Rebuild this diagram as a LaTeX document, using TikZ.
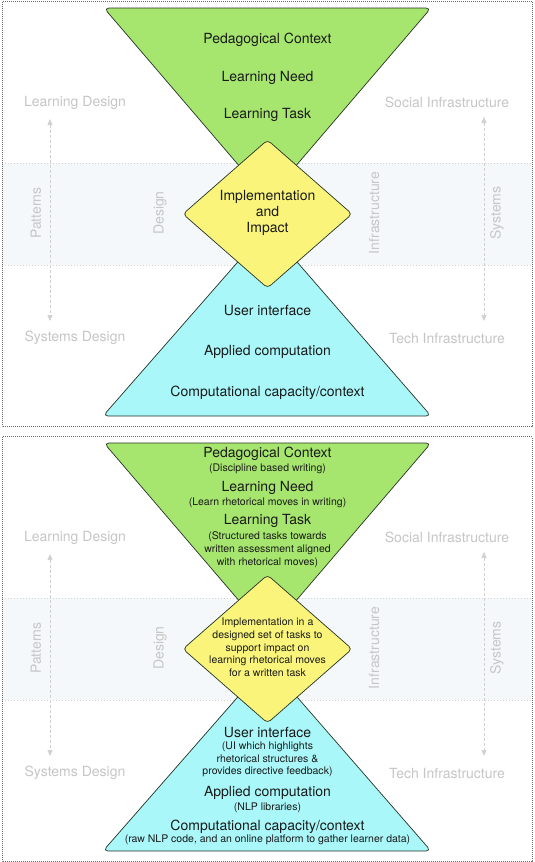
\documentclass[tikz,border=0pt]{standalone}
\usepackage{fontspec}
\setmainfont{TeX Gyre Heros}
\usetikzlibrary{arrows.meta}
\definecolor{tgreen}{HTML}{A6E66E}
\definecolor{tcyan}{HTML}{A9F7F9}
\definecolor{tyellow}{HTML}{FAF57A}
\definecolor{lblgray}{HTML}{C6C6C6}
\definecolor{bandfill}{HTML}{F4F8FA}
\definecolor{bordergray}{HTML}{6A6A6A}
\definecolor{linegray}{HTML}{D4D4D4}
\definecolor{arrowgray}{HTML}{D0D0D0}
\definecolor{textdark}{HTML}{1A1A1A}
\definecolor{outline}{HTML}{263326}
\tikzset{
  mtext/.style={font=\fontsize{14}{16}\selectfont, text=textdark, inner sep=0pt, align=center},
  stext/.style={font=\fontsize{10.5}{12.7}\selectfont, text=textdark, inner sep=0pt, align=center},
  glabel/.style={font=\fontsize{14}{16}\selectfont, text=lblgray, inner sep=0pt},
  bandline/.style={linegray, line width=0.7pt, dash pattern=on 1.2pt off 1.8pt},
  panelborder/.style={bordergray, line width=0.8pt, dash pattern=on 1pt off 1pt},
  garrow/.style={arrowgray, line width=0.7pt, dash pattern=on 3pt off 2pt,
     {Triangle[width=5pt,length=6pt]}-{Triangle[width=5pt,length=6pt]}},
  shapeline/.style={draw=outline, line width=0.7pt},
}
\newcommand\panelbase[1]{%
  \fill[white] (2,1.5) rectangle (532,426.5);
  \fill[bandfill] (2,163) rectangle (532,265);
  \draw[bandline] (2,163) -- (532,163);
  \draw[bandline] (2,265) -- (532,265);
  \draw[panelborder] (2,1.5) rectangle (532,426.5);
  \node[glabel] (#1ld) at (75,103) {Learning Design};
  \node[glabel] (#1si) at (447,102) {Social Infrastructure};
  \node[glabel] (#1sd) at (75,338) {Systems Design};
  \node[glabel] (#1ti) at (447,338) {Tech Infrastructure};
  \node[glabel, rotate=90] (#1pa) at (36,213) {Patterns};
  \node[glabel, rotate=90] (#1de) at (160,213) {Design};
  \node[glabel, rotate=90] (#1in) at (374,213) {Infrastructure};
  \node[glabel, rotate=90] (#1sy) at (497,213) {Systems};
  \coordinate (#1la) at (50,119);
  \coordinate (#1lb) at (50,321);
  \coordinate (#1ra) at (484,117);
  \coordinate (#1rb) at (484,321);
  \draw[garrow] (#1la) -- (#1lb);
  \draw[garrow] (#1ra) -- (#1rb);
  \coordinate (#1g1) at (104,8);
  \coordinate (#1g2) at (431,8);
  \coordinate (#1g3) at (267.5,199);
  \filldraw[shapeline, fill=tgreen, rounded corners=5pt] (#1g1) -- (#1g2) -- (#1g3) -- cycle;
  \coordinate (#1c1) at (103,416);
  \coordinate (#1c2) at (431,416);
  \coordinate (#1c3) at (267.5,228);
  \filldraw[shapeline, fill=tcyan, rounded corners=5pt] (#1c1) -- (#1c2) -- (#1c3) -- cycle;
  \coordinate (#1d1) at (267.5,140);
  \coordinate (#1d2) at (352,214);
  \coordinate (#1d3) at (267.5,288);
  \coordinate (#1d4) at (183,214);
  \filldraw[shapeline, fill=tyellow, rounded corners=4pt] (#1d1) -- (#1d2) -- (#1d3) -- (#1d4) -- cycle;
}
\begin{document}
\begin{tikzpicture}[x=1pt,y=-1pt]
\useasboundingbox (0,0) rectangle (535,862);
% ---------- panel 1 ----------
\begin{scope}
  \panelbase{a}
  \node[mtext] (apc) at (267.5,40) {Pedagogical Context};
  \node[mtext] (aln) at (267.5,78) {Learning Need};
  \node[mtext] (alt) at (267.5,115) {Learning Task};
  \node[mtext] (aii) at (267.5,213) {Implementation\\and\\Impact};
  \node[mtext] (aui) at (267.5,310) {User interface};
  \node[mtext] (aac) at (267.5,352) {Applied computation};
  \node[mtext] (acc) at (267.5,393) {Computational capacity/context};
\end{scope}
% ---------- panel 2 ----------
\begin{scope}[shift={(0,435)}]
  \panelbase{b}
  \node[mtext] (bpc) at (267.5,19) {Pedagogical Context};
  \node[stext] (bpcs) at (267.5,33.5) {(Discipline based writing)};
  \node[mtext] (bln) at (267.5,53) {Learning Need};
  \node[stext] (blns) at (267.5,68) {(Learn rhetorical moves in writing)};
  \node[mtext] (blt) at (267.5,86) {Learning Task};
  \node[stext] (blts) at (267.5,114.5) {(Structured tasks towards\\written assessment aligned\\with rhetorical moves)};
  \node[stext] (bii) at (267.5,212.5) {Implementation in a\\designed set of tasks to\\support impact on\\learning rhetorical moves\\for a written task};
  \node[mtext] (bui) at (267.5,297) {User interface};
  \node[stext] (buis) at (267.5,324.5) {(UI which highlights\\rhetorical structures \&\\provides directive feedback)};
  \node[mtext] (bac) at (267.5,358) {Applied computation};
  \node[stext] (bacs) at (267.5,373) {(NLP libraries)};
  \node[mtext] (bcc) at (267.5,392) {Computational capacity/context};
  \node[stext] (bccs) at (267.5,404.5) {(raw NLP code, and an online platform to gather learner data)};
\end{scope}
\end{tikzpicture}
\end{document}
